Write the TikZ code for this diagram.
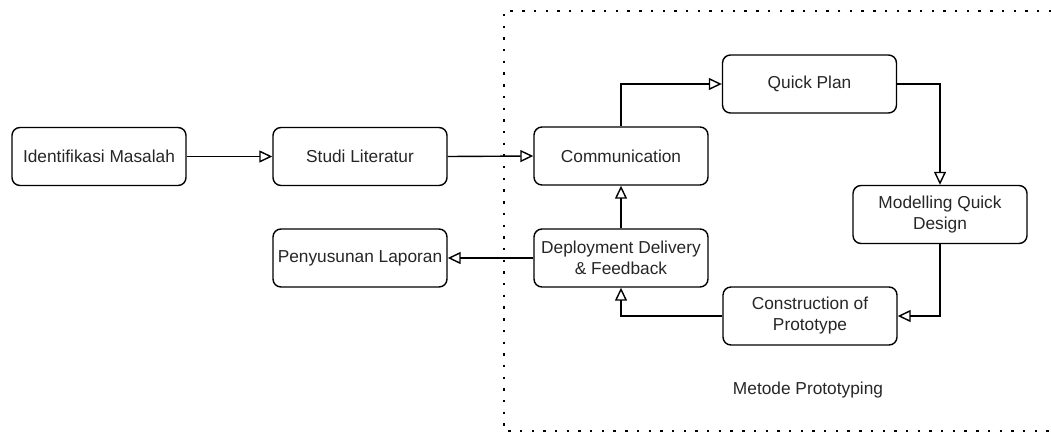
\documentclass[tikz,border=0pt]{standalone}
\usepackage{fontspec}
\setmainfont{Liberation Sans}
\usetikzlibrary{arrows.meta}
\tikzset{
  box/.style={draw, line width=1.4pt, rounded corners=8pt, minimum width=174pt, minimum height=58pt, inner sep=0pt, align=center, font=\fontsize{17.3}{21}\selectfont, text=black!85},
  conn/.style={line width=1.4pt, -{Triangle[open, length=13pt, width=12pt, line width=1.4pt]}},
  frame/.style={line width=2.4pt, dash pattern=on 2.4pt off 9.3pt}
}
\begin{document}
\begin{tikzpicture}[x=1pt,y=-1pt]
\useasboundingbox (0,0) rectangle (1051,432);
\coordinate (f1) at (1051,11);
\coordinate (f2) at (504,11);
\coordinate (f3) at (504,431);
\coordinate (f4) at (1051,431);
\draw[frame] (f1) -- (f2) -- (f3) -- (f4);
\node[box] (id) at (99,156.5) {Identifikasi Masalah};
\node[box] (sl) at (360,156.5) {Studi Literatur};
\node[box] (cm) at (621,156) {Communication};
\node[box] (qp) at (809.5,84) {Quick Plan};
\node[box] (md) at (940,214.5) {Modelling Quick\\Design};
\node[box] (cp) at (810,316) {Construction of\\Prototype};
\node[box] (dd) at (621,258) {Deployment Delivery\\\& Feedback};
\node[box] (pl) at (360,258) {Penyusunan Laporan};
\node[font=\fontsize{17.3}{21}\selectfont, text=black!85] (lbl) at (808,390) {Metode Prototyping};
\draw[conn] (id.east) -- (sl.west);
\draw[conn] (sl.east) -- (cm.west);
\draw[conn] (cm.north) |- (qp.west);
\draw[conn] (qp.east) -| (md.north);
\draw[conn] (md.south) |- (cp.east);
\draw[conn] (cp.west) -| (dd.south);
\draw[conn] (dd.north) -- (cm.south);
\draw[conn] (dd.west) -- (pl.east);
\end{tikzpicture}
\end{document}
